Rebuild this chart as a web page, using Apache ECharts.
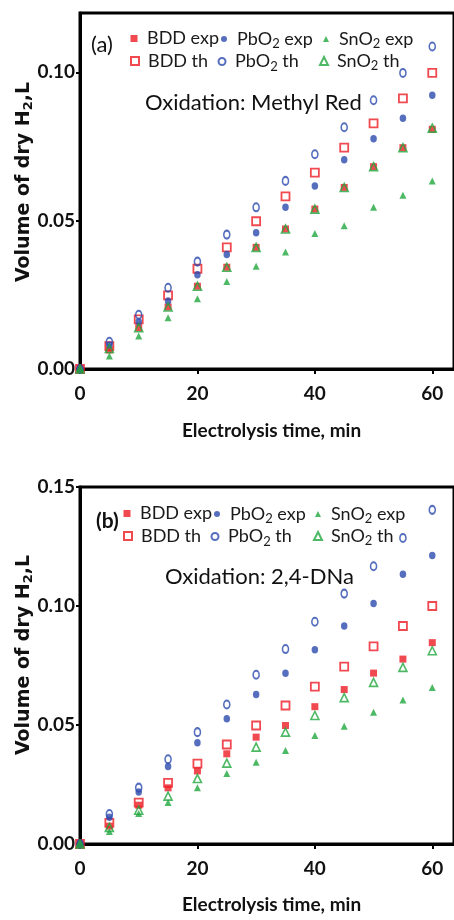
<!DOCTYPE html>
<html>
<head>
<meta charset="utf-8">
<script src="https://cdn.jsdelivr.net/npm/echarts@6/dist/echarts.min.js"></script>
<style>
html,body{margin:0;padding:0;background:#fff;}
#chart{width:454px;height:920px;}
</style>
</head>
<body>
<div id="chart"></div>
<script>
// ---- Data ----
const time = [0, 5, 10, 15, 20, 25, 30, 35, 40, 45, 50, 55, 60];
const xTicks = [0, 20, 40, 60];
const yTicksA = [0, 0.05, 0.10];
const yTicksB = [0, 0.05, 0.10, 0.15];

// (a) Oxidation: Methyl Red
const bddExpA = [0, 0.0064, 0.0139, 0.0209, 0.0279, 0.0343, 0.0410, 0.0472, 0.0539, 0.0612, 0.0682, 0.0746, 0.0808];
const bddThA  = [0, 0.0077, 0.0167, 0.0248, 0.0338, 0.0410, 0.0498, 0.0582, 0.0662, 0.0746, 0.0828, 0.0912, 0.0998];
const pbExpA  = [0, 0.0081, 0.0159, 0.0229, 0.0318, 0.0386, 0.0459, 0.0545, 0.0617, 0.0705, 0.0776, 0.0845, 0.0923];
const pbThA   = [0, 0.0092, 0.0183, 0.0274, 0.0362, 0.0453, 0.0545, 0.0634, 0.0724, 0.0815, 0.0906, 0.0998, 0.1087];
const snExpA  = [0, 0.0044, 0.0111, 0.0173, 0.0237, 0.0295, 0.0346, 0.0394, 0.0457, 0.0483, 0.0545, 0.0586, 0.0634];
const snThA   = [0, 0.0069, 0.0139, 0.0209, 0.0279, 0.0343, 0.0410, 0.0472, 0.0539, 0.0612, 0.0682, 0.0746, 0.0812];

// (b) Oxidation: 2,4-DNa
const bddExpB = [0, 0.0075, 0.0163, 0.0236, 0.0307, 0.0379, 0.0449, 0.0498, 0.0577, 0.0649, 0.0718, 0.0777, 0.0846];
const bddThB  = [0, 0.0089, 0.0174, 0.0257, 0.0338, 0.0418, 0.0498, 0.0582, 0.0661, 0.0745, 0.0830, 0.0916, 0.1000];
const pbExpB  = [0, 0.0112, 0.0219, 0.0326, 0.0425, 0.0526, 0.0628, 0.0717, 0.0816, 0.0916, 0.1011, 0.1133, 0.1212];
const pbThB   = [0, 0.0126, 0.0237, 0.0356, 0.0470, 0.0586, 0.0711, 0.0819, 0.0934, 0.1052, 0.1167, 0.1286, 0.1404];
const snExpB  = [0, 0.0052, 0.0128, 0.0174, 0.0236, 0.0296, 0.0344, 0.0393, 0.0456, 0.0495, 0.0554, 0.0605, 0.0658];
const snThB   = [0, 0.0070, 0.0142, 0.0201, 0.0275, 0.0340, 0.0407, 0.0470, 0.0540, 0.0615, 0.0679, 0.0742, 0.0812];

const seriesNames = ['BDD exp', 'BDD th', 'PbO2 exp', 'PbO2 th', 'SnO2 exp', 'SnO2 th'];

// ---- Styles ----
const RED = '#ee1c24', BLUE = '#2c4aae', GREEN = '#22a83f';
const FONT = 'Lato, "Liberation Sans", sans-serif';

const styleOf = {
  'BDD exp':  {symbol: 'rect', size: 7, leg: 7, itemStyle: {color: RED}},
  'BDD th':   {symbol: 'rect', size: 8, leg: 8, itemStyle: {color: 'transparent', borderColor: RED, borderWidth: 1.8}},
  'PbO2 exp': {symbol: 'circle', size: [6.5, 7.5], leg: 6, itemStyle: {color: BLUE}},
  'PbO2 th':  {symbol: 'circle', size: [6, 8], leg: 7, itemStyle: {color: 'transparent', borderColor: BLUE, borderWidth: 1.8}},
  'SnO2 exp': {symbol: 'triangle', size: 7, leg: 6, itemStyle: {color: GREEN}},
  'SnO2 th':  {symbol: 'triangle', size: 8, leg: 8, itemStyle: {color: 'transparent', borderColor: GREEN, borderWidth: 1.6}}
};

function makeSeries(values, suffix, idx) {
  return seriesNames.map((n, i) => ({
    name: n + '#' + suffix,
    type: 'scatter',
    xAxisIndex: idx, yAxisIndex: idx,
    symbol: styleOf[n].symbol,
    symbolSize: styleOf[n].size,
    itemStyle: styleOf[n].itemStyle,
    emphasis: {disabled: true},
    data: time.map((t, k) => [t, values[i][k]])
  }));
}

const seriesA = makeSeries([bddExpA, bddThA, pbExpA, pbThA, snExpA, snThA], 'a', 0);
const seriesB = makeSeries([bddExpB, bddThB, pbExpB, pbThB, snExpB, snThB], 'b', 1);

function legendItem(name, suffix, cx, cy) {
  const s = styleOf[name].leg;
  return {
    data: [name + '#' + suffix],
    left: cx - s / 2, top: cy - s / 2,
    itemWidth: s, itemHeight: s,
    padding: 0, itemGap: 0,
    selectedMode: false,
    formatter: n => n.split('#')[0].replace('O2', 'O{s|2}'),
    textStyle: {
      fontFamily: FONT, fontSize: 18, color: '#1a1a1a',
      padding: [0, 0, 0, 13 - s / 2 - 5],
      rich: {s: {fontFamily: FONT, fontSize: 13, color: '#1a1a1a', padding: [10, 0, 0, 0]}}
    }
  };
}
// icon centre positions [x, y]
const legendPosA = {
  'BDD exp': [134, 33], 'PbO2 exp': [224, 33], 'SnO2 exp': [326, 33],
  'BDD th': [134, 56], 'PbO2 th': [221, 56], 'SnO2 th': [323, 56]
};
const legendPosB = {
  'BDD exp': [127, 508], 'PbO2 exp': [217, 508], 'SnO2 exp': [318, 508],
  'BDD th': [127, 531], 'PbO2 th': [214, 531], 'SnO2 th': [317, 531]
};
const legends = [];
seriesNames.forEach(n => legends.push(legendItem(n, 'a', legendPosA[n][0], legendPosA[n][1])));
seriesNames.forEach(n => legends.push(legendItem(n, 'b', legendPosB[n][0], legendPosB[n][1])));

function xAxis(idx) {
  return {
    type: 'value', gridIndex: idx, min: 0, max: 63.7,
    splitLine: {show: false},
    axisLine: {show: true, lineStyle: {color: '#000', width: 3}},
    axisTick: {show: true, inside: false, length: 5, lineStyle: {color: '#000', width: 2}, customValues: xTicks},
    axisLabel: {customValues: xTicks, margin: 15, fontFamily: FONT, fontWeight: 'bold', fontSize: 19, color: '#111'},
    name: 'Electrolysis time, min', nameLocation: 'middle', nameGap: idx === 0 ? 52 : 51,
    nameTextStyle: {fontFamily: FONT, fontWeight: 'bold', fontSize: 19, color: '#111', padding: [0, 0, 0, 9]}
  };
}
function yAxis(idx, max, ticks) {
  return {
    type: 'value', gridIndex: idx, min: 0, max: max,
    splitLine: {show: false},
    axisLine: {show: true, lineStyle: {color: '#000', width: 3}},
    axisTick: {show: true, inside: false, length: 4, lineStyle: {color: '#000', width: 2}, customValues: ticks},
    axisLabel: {customValues: ticks, margin: 5, formatter: v => v.toFixed(2),
      fontFamily: FONT, fontWeight: 'bold', fontSize: 19, color: '#111'}
  };
}

const yTitleRich = {s: {fontFamily: '"DejaVu Sans", sans-serif', fontWeight: 'bold', fontSize: 13, fill: '#111', padding: [9, 0, 0, 0]}};
function yTitle(cx, cy) {
  return {
    type: 'text', x: cx, y: cy, rotation: Math.PI / 2,
    style: {text: 'Volume of dry H{s|2},L', fontFamily: '"DejaVu Sans", sans-serif', fontWeight: 'bold',
      fontSize: 19, fill: '#111', align: 'center', verticalAlign: 'middle', rich: yTitleRich}
  };
}
function plainText(text, x, y, size, weight) {
  return {type: 'text', x: x, y: y,
    style: {text: text, fontFamily: FONT, fontSize: size, fontWeight: weight || 'normal', fill: '#111', verticalAlign: 'middle'}};
}

const chart = echarts.init(document.getElementById('chart'), null, {renderer: 'canvas'});
chart.setOption({
  animation: false,
  backgroundColor: '#fff',
  grid: [
    {left: 80, top: 13, right: -4, height: 356, show: true, borderColor: '#000', borderWidth: 3, containLabel: false},
    {left: 80, top: 487, right: -4, height: 357, show: true, borderColor: '#000', borderWidth: 3, containLabel: false}
  ],
  xAxis: [xAxis(0), xAxis(1)],
  yAxis: [yAxis(0, 0.12, yTicksA), yAxis(1, 0.15, yTicksB)],
  legend: legends,
  graphic: [
    yTitle(24, 182),
    yTitle(24, 655),
    plainText('(a)', 91, 45, 22, 'normal'),
    plainText('(b)', 96, 521, 21, 'bold'),
    plainText('Oxidation: Methyl Red', 145, 103, 22),
    plainText('Oxidation: 2,4-DNa', 165, 577, 22)
  ],
  series: seriesA.concat(seriesB)
});
</script>
</body>
</html>
